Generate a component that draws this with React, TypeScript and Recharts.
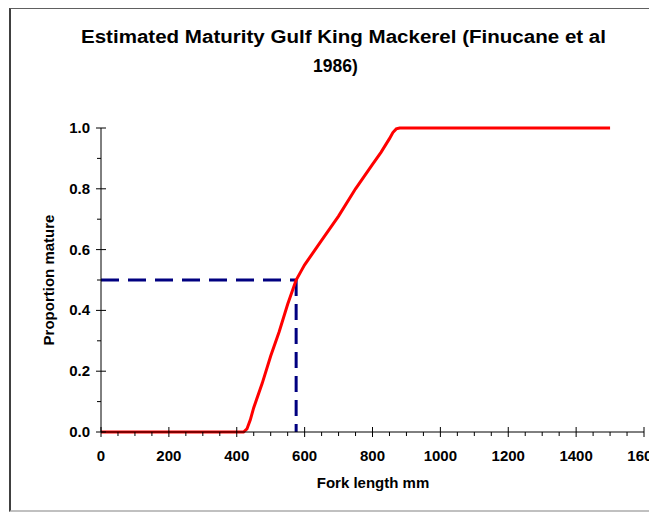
import React from "react";
import { LineChart, Line, XAxis, YAxis, ReferenceLine } from "recharts";

// fork length (mm) and proportion mature
const lengths = [0, 100, 200, 300, 400, 420, 430, 440, 450, 475, 500, 525, 550, 575, 590, 600, 625, 650, 700, 750, 800, 825, 850, 860, 870, 880, 900, 1000, 1100, 1200, 1300, 1400, 1500];
const proportions = [0, 0, 0, 0, 0, 0, 0.01, 0.04, 0.08, 0.16, 0.25, 0.33, 0.42, 0.5, 0.53, 0.55, 0.59, 0.63, 0.71, 0.8, 0.88, 0.92, 0.965, 0.985, 0.997, 1, 1, 1, 1, 1, 1, 1, 1];

// length at 50% maturity
const l50 = 575;
const p50 = 0.5;

const xTicks = Array.from({ length: 33 }, (_, i) => i * 50);
const yTicks = [0, 0.1, 0.2, 0.3, 0.4, 0.5, 0.6, 0.7, 0.8, 0.9, 1.0];

const chartData = lengths.map((len, i) => ({ len, p: proportions[i] }));

const font = "'Liberation Sans', Arial, sans-serif";

function XTick(props: any) {
  const { x, y, payload } = props;
  const major = payload.value % 200 === 0;
  return (
    <g>
      <line x1={x} x2={x} y1={major ? y - 5 : y} y2={major ? y + 5 : y + 4} stroke="#000" />
      {major && (
        <text x={x} y={y + 29} textAnchor="middle" fontFamily={font} fontWeight="bold" fontSize={15} fill="#000">
          {payload.value}
        </text>
      )}
    </g>
  );
}

function YTick(props: any) {
  const { x, y, payload } = props;
  const major = Math.round(payload.value * 10) % 2 === 0;
  return (
    <g>
      <line x1={major ? x - 5 : x - 4} x2={major ? x + 5 : x} y1={y} y2={y} stroke="#000" />
      {major && (
        <text x={x - 11} y={y + 5} textAnchor="end" fontFamily={font} fontWeight="bold" fontSize={15} fill="#000">
          {payload.value.toFixed(1)}
        </text>
      )}
    </g>
  );
}

export default function App() {
  return (
    <div style={{ position: "relative", width: 700, height: 505, background: "#fff" }}>
      <style>{`html, body { overflow: hidden; }`}</style>
      <div
        style={{
          position: "absolute",
          left: 1,
          top: 0,
          width: 697,
          height: 501,
          borderLeft: "2px solid #404040",
          borderTop: "1px solid #606060",
          borderBottom: "2px solid #c0c0c0",
        }}
      />
      <div style={{ position: "absolute", left: 0, top: 0 }}>
        <LineChart width={700} height={500} data={chartData} margin={{ top: 120, right: 64, bottom: 16, left: 33 }}>
          <XAxis
            dataKey="len"
            type="number"
            domain={[0, 1600]}
            ticks={xTicks}
            interval={0}
            tickSize={0}
            tickMargin={0}
            tickLine={false}
            tick={<XTick />}
            height={60}
            stroke="#000"
            allowDataOverflow
          />
          <YAxis
            type="number"
            domain={[0, 1]}
            ticks={yTicks}
            interval={0}
            tickSize={0}
            tickMargin={0}
            tickLine={false}
            tick={<YTick />}
            width={60}
            stroke="#000"
          />
          <ReferenceLine
            segment={[{ x: 0, y: p50 }, { x: l50, y: p50 }]}
            stroke="#000080"
            strokeWidth={3}
            strokeDasharray="18 9"
          />
          <ReferenceLine
            segment={[{ x: l50, y: p50 }, { x: l50, y: 0 }]}
            stroke="#000080"
            strokeWidth={3}
            strokeDasharray="16 8"
          />
          <Line
            type="linear"
            dataKey="p"
            stroke="#ff0000"
            strokeWidth={3}
            dot={false}
            isAnimationActive={false}
          />
        </LineChart>
      </div>
      <svg width={649} height={505} style={{ position: "absolute", left: 0, top: 0, pointerEvents: "none" }}>
        <text
          x={335.5}
          y={34.7}
          textAnchor="middle"
          textLength={525}
          lengthAdjust="spacingAndGlyphs"
          fontFamily={font}
          fontWeight="bold"
          fontSize={17.5}
          fill="#000"
        >
          Estimated Maturity Gulf King Mackerel (Finucane et al
        </text>
        <text x={327.5} y={63.5} textAnchor="middle" fontFamily={font} fontWeight="bold" fontSize={17.5} fill="#000">
          1986)
        </text>
        <text x={365} y={480} textAnchor="middle" fontFamily={font} fontWeight="bold" fontSize={15} fill="#000">
          Fork length mm
        </text>
        <text
          x={40}
          y={272}
          transform="rotate(-90 40 272)"
          textAnchor="middle"
          dominantBaseline="central"
          fontFamily={font}
          fontWeight="bold"
          fontSize={15}
          fill="#000"
        >
          Proportion mature
        </text>
      </svg>
    </div>
  );
}
